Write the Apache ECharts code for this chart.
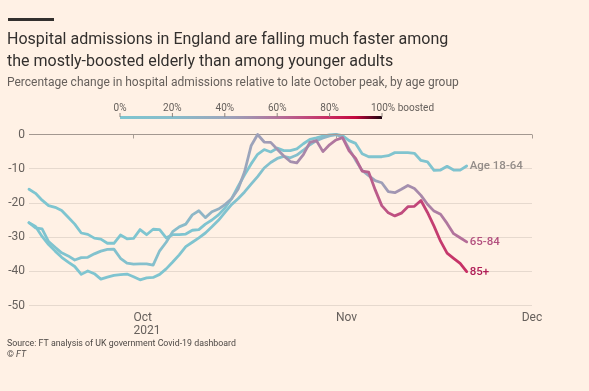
<!DOCTYPE html>
<html><head><meta charset="utf-8">
<script src="https://cdn.jsdelivr.net/npm/echarts@6/dist/echarts.min.js"></script>
<style>html,body{margin:0;padding:0;background:#fff1e5}#c{width:589px;height:391px}</style>
</head><body><div id="c"></div>
<script>
// ---- data ----
const startDate = '2021-09-15';           // first daily value
const seriesNames = ['Age 18-64', '65-84', '85+'];
const age18to64 = [-16, -17.2, -19.2, -20.8, -21.3, -22.2, -24.2, -26.2, -28.8, -29.2, -30.3, -30.6, -31.8, -31.8, -29.4, -30.5,
  -30.4, -27.8, -29.3, -27.7, -27.8, -30.2, -29.3, -29.3, -29.1, -28,
  -27.8, -26.2, -25, -23.5, -21.5, -18.8, -15.2, -11.8, -8.6, -5.8,
  -4.4, -5.1, -4.0, -4.7, -4.7, -4.2, -2.7, -1.4, -1.0, -0.5,
  -0.1, 0, -0.3, -1.8, -2.6, -5.6, -6.5, -6.5, -6.5, -6.2,
  -5.3, -5.3, -5.3, -5.5, -7.6, -8.0, -10.5, -10.4, -9.3, -10.4,
  -10.4, -9.2];
const age65to84 = [-25.8, -26.9, -29.8, -32.2, -34.1, -35.9, -37.3, -38.6, -40.9, -39.9, -40.7, -42.3, -41.7, -41.2, -41, -40.8,
  -41.6, -42.5, -41.9, -41.8, -40.9, -39.3, -37.3, -35.2, -32.8, -31.5,
  -30.2, -28.8, -27, -25.1, -22.8, -20.5, -18.8, -16.8, -14.5, -12.3,
  -9.8, -8.2, -7, -6.4, -6.8, -6, -4.6, -3, -1.8, -1,
  -0.4, 0, -0.8, -4.2, -7.5, -10.5, -12, -13.5, -14.1, -16.7,
  -17, -16, -14.9, -15.8, -17.8, -20.4, -22.4, -23.3, -26, -29,
  -30.2, -31.4];
const age85plus = [-25.8, -27.3, -27.6, -31.3, -33, -34.6, -35.5, -36.7, -36, -35.9, -34.9, -34.1, -33.6, -33.5, -36.2, -37.6,
  -37.9, -37.8, -37.8, -38.2, -34, -31.5, -28.4, -27, -26.2, -23.5,
  -22.3, -24.3, -22.6, -21.8, -20.5, -18.8, -16, -10.9, -3.3, 0,
  -2.2, -2.3, -4.3, -6.3, -7.9, -8.3, -5.9, -2.3, -1.8, -5,
  -3, -1.6, -0.9, -4.8, -7, -10.7, -11, -16.2, -20.8, -22.9,
  -23.8, -23, -21.1, -21, -19.3, -22.8, -26.8, -31.2, -34.7, -36.2,
  -37.7, -40.1];

// share boosted (%) at a few dates, per series (estimated from line colours)
const boostDates18 = ['2021-09-15', '2021-11-21'];
const boost18 = [0, 4];
const boostDates65 = ['2021-09-15', '2021-10-10', '2021-10-25', '2021-11-01', '2021-11-10', '2021-11-21'];
const boost65 = [0, 3, 14, 28, 48, 62];
const boostDates85 = ['2021-09-15', '2021-10-05', '2021-10-19', '2021-10-28', '2021-11-10', '2021-11-21'];
const boost85 = [0, 15, 41, 54, 70, 79];

const yMin = -50, yMax = 0, yStep = 10;
const xMin = '2021-09-15', xMax = '2021-12-01';
const xTickDates = ['2021-10-01', '2021-11-01', '2021-12-01'];
const xTickLabels = ['Oct\n2021', 'Nov', 'Dec'];

const legendTicks = [0, 20, 40, 60, 80, 100];
const legendTickLabels = ['0%', '20%', '40%', '60%', '80%', '100% boosted'];
const scalePct = [0, 20, 40, 50, 60, 70, 80, 90, 100];
const scaleColors = ['#7ec5d0', '#88bdcb', '#9ba6bc', '#a48fae', '#b3719b', '#bf4e80', '#c92b60', '#c2073c', '#1c0410'];

const endLabelColors = ['#938c88', '#b3507f', '#b01d57'];

// ---- helpers ----
const DAY = 86400000;
const t0 = Date.parse(startDate + 'T00:00:00Z');
const toT = s => Date.parse(s + 'T00:00:00Z');
function hex2rgb(h) { return [1, 3, 5].map(i => parseInt(h.substr(i, 2), 16)); }
function colorAtPct(p) {
  for (let i = 0; i < scalePct.length - 1; i++) {
    if (p <= scalePct[i + 1]) {
      const f = (p - scalePct[i]) / (scalePct[i + 1] - scalePct[i]);
      const a = hex2rgb(scaleColors[i]), b = hex2rgb(scaleColors[i + 1]);
      return 'rgb(' + a.map((v, k) => Math.round(v + (b[k] - v) * f)).join(',') + ')';
    }
  }
  return scaleColors[scaleColors.length - 1];
}
function interp(dates, vals, t) {
  const ts = dates.map(toT);
  if (t <= ts[0]) return vals[0];
  for (let i = 0; i < ts.length - 1; i++) {
    if (t <= ts[i + 1]) return vals[i] + (vals[i + 1] - vals[i]) * (t - ts[i]) / (ts[i + 1] - ts[i]);
  }
  return vals[vals.length - 1];
}
function gradientFor(values, bDates, bVals) {
  const n = values.length;
  const stops = values.map((_, i) => ({ offset: i / (n - 1), color: colorAtPct(interp(bDates, bVals, t0 + i * DAY)) }));
  return { type: 'linear', x: 0, y: 0, x2: 1, y2: 0, colorStops: stops };
}
const toData = vals => vals.map((v, i) => [t0 + i * DAY, v]);

const allValues = [age18to64, age65to84, age85plus];
const boosts = [[boostDates18, boost18], [boostDates65, boost65], [boostDates85, boost85]];
const tickTs = xTickDates.map(toT);

const FONT = 'Roboto';
const chart = echarts.init(document.getElementById('c'), null, { renderer: 'canvas' });

const series = allValues.map((vals, k) => {
  const s = {
    name: seriesNames[k],
    type: 'line',
    data: toData(vals),
    showSymbol: false,
    symbol: 'none',
    smooth: false,
    z: 3 + k,
    lineStyle: { width: 2.8, color: gradientFor(vals, boosts[k][0], boosts[k][1]), cap: 'round', join: 'round' },
    emphasis: { disabled: true },
    endLabel: {
      show: true, formatter: '{a}', distance: 3,
      color: endLabelColors[k], fontSize: 11.5, fontFamily: FONT, fontWeight: 500
    }
  };
  if (k === 0) {
    s.markLine = {
      silent: true, symbol: 'none', label: { show: false }, animation: false,
      lineStyle: { color: '#a39890', width: 1, type: 'solid' },
      data: [{ yAxis: 0 }]
    };
  }
  return s;
});

// legend graphic
const legLeft = 120, legWidth = 262, legBarTop = 116;
const legendGraphics = [
  { type: 'rect', left: 8, top: 18, shape: { width: 46, height: 3 }, style: { fill: '#33302e' } },
  {
    type: 'rect', left: legLeft, top: legBarTop, shape: { width: legWidth, height: 3 },
    style: { fill: { type: 'linear', x: 0, y: 0, x2: 1, y2: 0, colorStops: scalePct.map((p, i) => ({ offset: p / 100, color: scaleColors[i] })) } }
  }
];
legendTicks.forEach((p, i) => {
  const x = legLeft + legWidth * p / 100;
  legendGraphics.push({ type: 'line', shape: { x1: x, y1: 113, x2: x, y2: 117 }, style: { stroke: '#8d847e', lineWidth: 1 } });
  const isLast = i === legendTicks.length - 1;
  legendGraphics.push({
    type: 'text', x: isLast ? x - 11 : x, y: 108,
    style: { text: legendTickLabels[i], fill: '#66605c', font: '10px ' + FONT, align: isLast ? 'left' : 'center', verticalAlign: 'middle' }
  });
});

const option = {
  backgroundColor: '#fff1e5',
  animation: false,
  title: [
    { text: 'Hospital admissions in England are falling much faster among\nthe mostly-boosted elderly than among younger adults',
      left: 7, top: 29, padding: 0,
      textStyle: { fontFamily: FONT, fontSize: 16, fontWeight: 'normal', color: '#33302e', lineHeight: 22 } },
    { text: 'Percentage change in hospital admissions relative to late October peak, by age group',
      left: 7, top: 76, padding: 0,
      textStyle: { fontFamily: FONT, fontSize: 12, fontWeight: 'normal', color: '#66605c', lineHeight: 14 } },
    { text: 'Source: FT analysis of UK government Covid-19 dashboard\n© {i|FT}',
      left: 7, top: 338, padding: 0,
      textStyle: { fontFamily: FONT, fontSize: 8.8, fontWeight: 'normal', color: '#4d4845', lineHeight: 11,
        rich: { i: { fontStyle: 'italic', fontFamily: FONT, fontSize: 8.8, color: '#4d4845' } } } }
  ],
  grid: { left: 29, right: 57, top: 134.5, bottom: 85.5 },
  xAxis: {
    type: 'value', min: toT(xMin), max: toT(xMax),
    axisLine: { show: false },
    splitLine: { show: false },
    axisTick: { show: true, customValues: tickTs, length: 4, lineStyle: { color: '#a89d94' } },
    axisLabel: {
      customValues: tickTs,
      formatter: v => { const i = tickTs.indexOf(v); return i >= 0 ? xTickLabels[i] : ''; },
      align: 'left', alignMaxLabel: 'center',
      color: '#66605c', fontFamily: FONT, fontSize: 12, lineHeight: 13, margin: 6
    }
  },
  yAxis: {
    type: 'value', min: yMin, max: yMax, interval: yStep,
    axisLine: { show: false }, axisTick: { show: false },
    splitLine: { lineStyle: { color: '#e6d9ce', width: 1 } },
    axisLabel: { color: '#66605c', fontFamily: FONT, fontSize: 12, margin: 4 }
  },
  graphic: legendGraphics,
  series: series
};
chart.setOption(option);
</script></body></html>
